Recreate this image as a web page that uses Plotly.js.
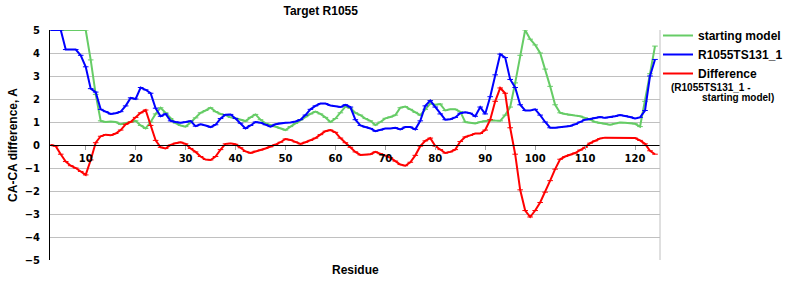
<!DOCTYPE html>
<html>
<head>
<meta charset="utf-8">
<script src="https://cdn.plot.ly/plotly-3.0.1.min.js"></script>
<style>html,body{margin:0;padding:0;background:#fff;}#chart{width:800px;height:300px;}</style>
</head>
<body>
<div id="chart"></div>
<script>
const residues = [3,4,5,6,7,8,9,10,11,12,13,14,15,16,17,18,19,20,21,22,23,24,25,26,27,28,29,30,
31,32,33,34,35,36,37,38,39,40,41,42,43,44,45,46,47,48,49,50,51,52,53,54,55,56,57,58,59,60,
61,62,63,64,65,66,67,68,69,70,71,72,73,74,75,76,77,78,79,80,81,82,83,84,85,86,87,88,89,90,
91,92,93,94,95,96,97,98,99,100,101,102,103,104,105,106,107,108,109,110,111,112,113,114,115,116,117,118,119,120,
121,122,123,124];

const startingModel = [5,5,5,5,5,5,5,5,
3.7,2.2,1.05,1.0,1.02,1.0,0.9,0.95,1.0,1.05,
0.85,0.72,1.0,1.35,1.62,1.4,1.15,0.95,0.85,0.8,
0.98,1.18,1.4,1.5,1.62,1.45,1.35,1.3,1.2,1.16,
1.1,1.04,1.2,1.33,1.1,0.94,0.87,0.8,0.72,0.65,
0.8,0.94,1.1,1.23,1.35,1.45,1.35,1.2,1.0,1.15,
1.4,1.67,1.6,1.4,1.3,1.15,1.05,0.87,1.0,1.16,
1.22,1.3,1.62,1.67,1.55,1.42,1.3,1.55,1.8,1.75,
1.78,1.5,1.55,1.55,1.45,1.0,0.97,0.94,1.0,1.05,
1.08,1.06,1.05,1.3,1.65,2.7,3.9,5.0,4.6,4.35,
4.0,3.3,2.55,1.75,1.4,1.35,1.3,1.28,1.25,1.18,
1.1,1.0,0.95,0.92,0.88,0.93,0.98,0.97,0.95,0.92,
0.8,1.9,3.1,4.3];

const model131 = [5,5,5,4.15,4.15,4.15,3.9,3.4,
2.45,2.3,1.55,1.45,1.35,1.38,1.45,1.7,2.05,2.0,
2.5,2.4,2.25,1.6,1.25,1.35,1.05,1.0,0.97,1.0,
1.04,0.82,0.9,0.85,0.78,0.88,1.15,1.32,1.33,1.15,
0.95,0.72,0.85,1.0,0.97,0.88,0.8,0.9,0.95,0.97,
0.98,1.02,1.1,1.3,1.55,1.7,1.8,1.8,1.72,1.68,
1.65,1.75,1.65,1.1,0.85,0.78,0.72,0.6,0.65,0.72,
0.72,0.75,0.68,0.78,0.78,0.68,1.05,1.7,1.93,1.65,
1.35,1.1,1.12,1.2,1.38,1.42,1.38,1.25,1.65,1.35,
2.1,3.05,3.95,3.8,2.85,2.5,1.75,1.5,1.5,1.55,
1.3,1.0,0.75,0.75,0.77,0.8,0.83,0.9,1.0,1.1,
1.13,1.18,1.22,1.18,1.2,1.25,1.3,1.27,1.22,1.15,
1.2,1.5,3.0,3.72];

const difference = [0,-0.05,-0.4,-0.72,-0.9,-1.0,-1.15,-1.3,
-0.65,0.1,0.38,0.45,0.42,0.5,0.65,0.9,1.0,1.2,
1.4,1.52,0.85,0.2,-0.1,-0.15,0.0,0.08,0.12,0.05,
-0.15,-0.3,-0.5,-0.63,-0.65,-0.5,-0.2,0.05,0.07,0.03,
-0.12,-0.28,-0.35,-0.27,-0.22,-0.15,-0.08,0.02,0.12,0.26,
0.22,0.13,0.05,0.12,0.2,0.3,0.45,0.6,0.65,0.55,
0.3,0.1,-0.1,-0.3,-0.43,-0.42,-0.4,-0.3,-0.38,-0.45,
-0.55,-0.7,-0.85,-0.9,-0.75,-0.45,-0.05,0.18,0.3,-0.05,
-0.2,-0.35,-0.3,-0.2,0.15,0.35,0.42,0.5,0.5,0.65,
1.1,1.9,2.48,2.25,0.75,-0.4,-1.95,-2.85,-3.13,-2.85,
-2.5,-2.05,-1.55,-1.05,-0.62,-0.5,-0.42,-0.35,-0.22,-0.1,
0.08,0.18,0.28,0.32,0.32,0.32,0.32,0.32,0.32,0.3,
0.2,0.05,-0.25,-0.4];

const xTicks = [10,20,30,40,50,60,70,80,90,100,110,120];
const yTicks = [-5,-4,-3,-2,-1,0,1,2,3,4,5];
const seriesNames = ['starting model','R1055TS131_1','Difference'];
const seriesColors = ['#66cc66','#0000ff','#ff0000'];
const seriesData = [startingModel, model131, difference];

const boldFont = 'Arial, "Liberation Sans", sans-serif';
const tickFontFam = 'Verdana, "DejaVu Sans", sans-serif';

const traces = seriesData.map((ys, i) => ({
  type: 'scatter',
  mode: 'lines+markers',
  x: residues,
  y: ys,
  name: '<b>' + seriesNames[i] + '</b>',
  line: {color: seriesColors[i], width: 2},
  marker: {symbol: 'line-ew', size: 4, color: seriesColors[i], line: {color: seriesColors[i], width: 1}},
  hoverinfo: 'x+y'
}));

const L = 50, R = 660, T = 30, B = 260;
const px2x = p => (p - L) / (R - L);
const py2y = p => (B - p) / (B - T);

const layout = {
  width: 800, height: 300,
  margin: {l: L, r: 800 - R, t: T, b: 300 - B, pad: 0},
  paper_bgcolor: '#ffffff',
  plot_bgcolor: '#ffffff',
  title: {text: '<b>Target R1055</b>', font: {family: boldFont, size: 12, color: '#000'},
          x: 355/800, xanchor: 'center', xref: 'paper', y: 1 - 11/300, yanchor: 'middle'},
  showlegend: true,
  legend: {x: px2x(658), y: py2y(21), xanchor: 'left', yanchor: 'top',
           font: {family: boldFont, size: 12, color: '#000'}, bgcolor: 'rgba(0,0,0,0)',
           traceorder: 'normal', valign: 'middle', tracegroupgap: 0},
  xaxis: {
    range: [2.85, 125],
    anchor: 'free', position: 0.5,
    showline: true, linecolor: '#000', linewidth: 1,
    ticks: 'outside', ticklen: 4, tickcolor: '#a0a0a0', tickwidth: 1,
    tickvals: xTicks,
    tickfont: {family: tickFontFam, size: 10, color: '#000', weight: 'bold'},
    showgrid: false, zeroline: false
  },
  yaxis: {
    range: [-5, 5],
    tickvals: yTicks,
    ticks: '', ticklabelstandoff: 7,
    tickfont: {family: tickFontFam, size: 10, color: '#000', weight: 'bold'},
    showgrid: true, gridcolor: '#c0c0c0', gridwidth: 1,
    showline: true, linecolor: '#000', linewidth: 1,
    zeroline: true, zerolinecolor: '#000', zerolinewidth: 1,
    title: {text: '<b>CA-CA difference, A</b>', font: {family: boldFont, size: 12, color: '#000'}, standoff: 4}
  },
  shapes: [
    {type: 'line', xref: 'paper', yref: 'paper', x0: 1, x1: 1, y0: 0, y1: 1, line: {color: '#c0c0c0', width: 1}}
  ],
  annotations: [
    {text: '<b>Residue</b>', xref: 'paper', yref: 'paper', x: 0.5, y: py2y(270), xanchor: 'center', yanchor: 'middle',
     showarrow: false, font: {family: boldFont, size: 12, color: '#000'}},
    {text: '<b>(R1055TS131_1 -</b>', xref: 'paper', yref: 'paper', x: px2x(669), y: py2y(87), xanchor: 'left', yanchor: 'middle',
     showarrow: false, font: {family: boldFont, size: 10, color: '#000'}},
    {text: '<b>starting model)</b>', xref: 'paper', yref: 'paper', x: px2x(700), y: py2y(98), xanchor: 'left', yanchor: 'middle',
     showarrow: false, font: {family: boldFont, size: 10, color: '#000'}}
  ]
};

Plotly.newPlot('chart', traces, layout, {staticPlot: true, displayModeBar: false});
</script>
</body>
</html>
